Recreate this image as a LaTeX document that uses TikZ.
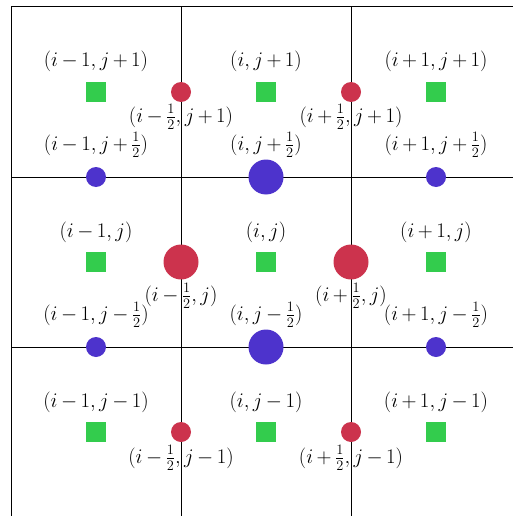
\documentclass[tikz,border=0pt]{standalone}
\usepackage{amsmath}
\definecolor{cgreen}{RGB}{51,204,77}
\definecolor{cred}{RGB}{204,51,77}
\definecolor{cblue}{RGB}{77,51,204}
\newcommand\labfont{\fontsize{20.74}{25}\selectfont\medmuskip=3mu\relax}
\tikzset{
  gridline/.style={line width=1pt, black},
  sq/.style={fill=cgreen, draw=none, minimum size=20pt, inner sep=0pt, shape=rectangle},
  rdot/.style={fill=cred, draw=none, circle, minimum size=20pt, inner sep=0pt},
  rbig/.style={fill=cred, draw=none, circle, minimum size=35pt, inner sep=0pt},
  bdot/.style={fill=cblue, draw=none, circle, minimum size=20pt, inner sep=0pt},
  bbig/.style={fill=cblue, draw=none, circle, minimum size=35pt, inner sep=0pt},
  lab/.style={inner sep=0pt, font=\labfont}
}
\begin{document}
\begin{tikzpicture}[x=1pt,y=-1pt]
\useasboundingbox (0,0) rectangle (513,516);
% grid
\draw[gridline] (11,516) -- (11,7) -- (513,7);
\draw[gridline] (181,7) -- (181,516);
\draw[gridline] (351,7) -- (351,516);
\draw[gridline] (11,177) -- (513,177);
\draw[gridline] (11,347) -- (513,347);
% cell centres
\node[sq] (c11) at (96,92) {};
\node[sq] (c21) at (266,92) {};
\node[sq] (c31) at (436,92) {};
\node[sq] (c12) at (96,262) {};
\node[sq] (c22) at (266,262) {};
\node[sq] (c32) at (436,262) {};
\node[sq] (c13) at (96,432) {};
\node[sq] (c23) at (266,432) {};
\node[sq] (c33) at (436,432) {};
% red (vertical faces)
\node[rdot] (r11) at (181,92) {};
\node[rdot] (r21) at (351,92) {};
\node[rbig] (r12) at (181,262) {};
\node[rbig] (r22) at (351,262) {};
\node[rdot] (r13) at (181,432) {};
\node[rdot] (r23) at (351,432) {};
% blue (horizontal faces)
\node[bdot] (b11) at (96,177) {};
\node[bbig] (b21) at (266,177) {};
\node[bdot] (b31) at (436,177) {};
\node[bdot] (b12) at (96,347) {};
\node[bbig] (b22) at (266,347) {};
\node[bdot] (b32) at (436,347) {};
% cell labels
\node[lab] (lc11) at (96,61) {$(i-1,j+1)$};
\node[lab] (lc21) at (266,61) {$(i,j+1)$};
\node[lab] (lc31) at (436,61) {$(i+1,j+1)$};
\node[lab] (lc12) at (96,232) {$(i-1,j)$};
\node[lab] (lc22) at (266,232) {$(i,j)$};
\node[lab] (lc32) at (436,232) {$(i+1,j)$};
\node[lab] (lc13) at (96,402) {$(i-1,j-1)$};
\node[lab] (lc23) at (266,402) {$(i,j-1)$};
\node[lab] (lc33) at (436,402) {$(i+1,j-1)$};
% blue labels
\node[lab] (lb11) at (96,145) {$(i-1,j+\frac{1}{2})$};
\node[lab] (lb21) at (266,145) {$(i,j+\frac{1}{2})$};
\node[lab] (lb31) at (436,145) {$(i+1,j+\frac{1}{2})$};
\node[lab] (lb12) at (96,315) {$(i-1,j-\frac{1}{2})$};
\node[lab] (lb22) at (266,315) {$(i,j-\frac{1}{2})$};
\node[lab] (lb32) at (436,315) {$(i+1,j-\frac{1}{2})$};
% red labels
\node[lab] (lr11) at (181,117) {$(i-\frac{1}{2},j+1)$};
\node[lab] (lr21) at (351,117) {$(i+\frac{1}{2},j+1)$};
\node[lab] (lr12) at (181,296) {$(i-\frac{1}{2},j)$};
\node[lab] (lr22) at (351,296) {$(i+\frac{1}{2},j)$};
\node[lab] (lr13) at (181,458) {$(i-\frac{1}{2},j-1)$};
\node[lab] (lr23) at (351,458) {$(i+\frac{1}{2},j-1)$};
\end{tikzpicture}
\end{document}
